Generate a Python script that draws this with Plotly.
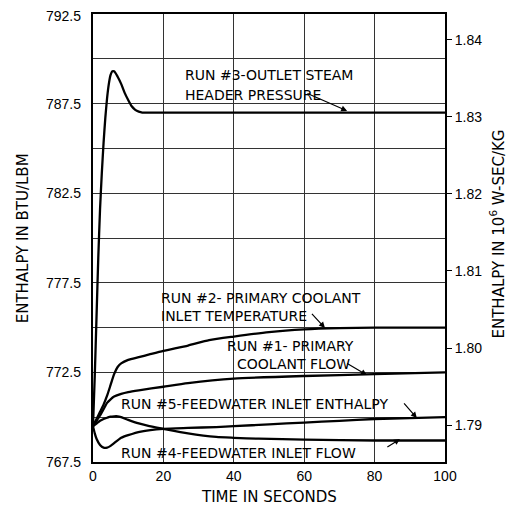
import plotly.graph_objects as go

# ---- data (time in s, enthalpy in BTU/LBM) ----
t_run3 = [0, 0.5, 1.0, 1.5, 2.0, 2.5, 3.0, 3.5, 4.0, 4.5, 5.0, 5.5, 6.0, 7.0, 8.0, 9.0, 10.0, 11.0, 12.0, 13.0, 14, 20, 40, 60, 80, 100]
h_run3 = [769.5, 772.3, 775.6, 778.9, 781.6, 783.6, 785.3, 786.7, 787.8, 788.6, 789.1, 789.3, 789.3, 789.0, 788.6, 788.1, 787.7, 787.35, 787.15, 787.05, 787.0, 787.0, 787.0, 787.0, 787.0, 787.0]

t_run2 = [0, 1, 2, 3, 4, 5, 6, 7, 8, 10, 13, 16, 20, 27, 33, 40, 50, 60, 70, 80, 90, 100]
h_run2 = [769.5, 769.9, 770.3, 770.7, 771.2, 771.8, 772.4, 772.8, 773.0, 773.2, 773.35, 773.5, 773.7, 774.0, 774.3, 774.5, 774.75, 774.9, 774.97, 775.0, 775.0, 775.0]

t_run1 = [0, 1, 2, 3, 4, 5, 6, 8, 10, 13, 20, 27, 40, 60, 80, 100]
h_run1 = [769.5, 769.8, 770.1, 770.45, 770.8, 771.0, 771.15, 771.3, 771.4, 771.5, 771.7, 771.9, 772.15, 772.3, 772.4, 772.5]

t_run4 = [0, 1, 2, 3, 4, 5, 6, 7, 8, 10, 13, 16, 20, 27, 35, 40, 47, 60, 80, 100]
h_run4 = [769.5, 769.65, 769.8, 769.9, 769.97, 770.03, 770.05, 770.05, 770.0, 769.85, 769.65, 769.5, 769.35, 769.1, 768.9, 768.85, 768.8, 768.75, 768.7, 768.7]

t_run5 = [0, 0.5, 1, 2, 3, 4, 5, 6, 8, 10, 13.6, 20, 27, 35, 40, 50, 60, 70, 80, 90, 100]
h_run5 = [769.5, 769.1, 768.8, 768.45, 768.3, 768.3, 768.4, 768.55, 768.85, 769.0, 769.2, 769.35, 769.4, 769.45, 769.5, 769.6, 769.7, 769.8, 769.9, 769.95, 770.0]

left_ticks = [767.5, 772.5, 777.5, 782.5, 787.5, 792.5]
left_labels = ["767.5", "772.5", "777.5", "782.5", "787.5", "792.5"]
right_ticks = [1.79, 1.80, 1.81, 1.82, 1.83, 1.84]
right_labels = ["1.79", "1.80", "1.81", "1.82", "1.83", "1.84"]
x_ticks = [0, 20, 40, 60, 80, 100]
BTU_TO_SI = 0.002326  # 1 BTU/LBM = 0.002326 x10^6 W-sec/KG

Y0, Y1 = 767.5, 792.5

fig = go.Figure()
line = dict(color="black", width=2.3, shape="spline", smoothing=0.6)
for t, h, nm in [(t_run3, h_run3, "Run 3"), (t_run2, h_run2, "Run 2"), (t_run1, h_run1, "Run 1"),
                 (t_run4, h_run4, "Run 4"), (t_run5, h_run5, "Run 5")]:
    fig.add_trace(go.Scatter(x=t, y=h, mode="lines", line=line, name=nm, showlegend=False))

# invisible trace for the right axis
fig.add_trace(go.Scatter(x=[0, 100], y=[Y0 * BTU_TO_SI, Y1 * BTU_TO_SI], yaxis="y2", mode="lines",
                         line=dict(width=0, color="rgba(0,0,0,0)"), showlegend=False, hoverinfo="skip"))

tickfont = dict(family="Liberation Sans, Arial", size=14, color="black")
titlefont = dict(family="DejaVu Sans", size=15, color="black")
# page body has an 8px margin, so the figure is offset by 8px
fig.update_layout(
    width=507, height=498,
    margin=dict(l=85, r=70, t=6, b=44),
    paper_bgcolor="white", plot_bgcolor="white",
    xaxis=dict(range=[0, 100], tickvals=x_ticks, showgrid=True, gridcolor="#333", gridwidth=1,
               zeroline=False, showline=True, linecolor="black", linewidth=1.5, mirror=True,
               ticks="", tickfont=tickfont, automargin=False),
    yaxis=dict(range=[Y0, Y1], dtick=2.5, tick0=767.5, showgrid=True, gridcolor="#333", gridwidth=1,
               zeroline=False, showline=True, linecolor="black", linewidth=1.5, mirror=True,
               ticks="", showticklabels=False, automargin=False),
    yaxis2=dict(range=[Y0 * BTU_TO_SI, Y1 * BTU_TO_SI], overlaying="y", side="right",
                tickvals=right_ticks, ticktext=right_labels, showgrid=False, zeroline=False,
                ticks="outside", ticklen=6, tickcolor="black", tickfont=tickfont, showline=False,
                automargin=False),
    showlegend=False,
)

# axis titles
fig.add_annotation(x=-0.198, y=0.50, xref="paper", yref="paper", text="ENTHALPY IN BTU/LBM",
                   textangle=-90, showarrow=False, xanchor="center", yanchor="middle", font=titlefont)
fig.add_annotation(x=1.1477, y=0.51, xref="paper", yref="paper", text="ENTHALPY IN 10<sup>6</sup> W-SEC/KG",
                   textangle=-90, showarrow=False, xanchor="center", yanchor="middle", font=titlefont)
fig.add_annotation(x=0.5, y=-0.078, xref="paper", yref="paper", text="TIME IN SECONDS",
                   showarrow=False, xanchor="center", yanchor="middle", font=titlefont)

# left tick labels placed left of the axis
for v, lab in zip(left_ticks, left_labels):
    fig.add_annotation(x=0, y=v, xref="paper", yref="y", text=lab, showarrow=False,
                       xanchor="right", xshift=-10, yshift=(-2 if v == Y1 else 0), font=tickfont)

afont = dict(family="DejaVu Sans", size=14, color="black")
labels = [
    (26.4, 789.1, "RUN #3-OUTLET STEAM"),
    (26.4, 788.0, "HEADER PRESSURE"),
    (19.6, 776.65, "RUN #2- PRIMARY COOLANT"),
    (19.6, 775.65, "INLET TEMPERATURE"),
    (38.4, 773.97, "RUN #1- PRIMARY"),
    (41.2, 772.97, "COOLANT FLOW"),
    (8.2, 770.74, "RUN #5-FEEDWATER INLET ENTHALPY"),
    (8.2, 768.0, "RUN #4-FEEDWATER INLET FLOW"),
]
for x, y, txt in labels:
    fig.add_annotation(x=x, y=y, text=txt, showarrow=False, xanchor="left", yanchor="middle",
                       xshift=-3, font=afont)

arrows = [
    (60.5, 788.1, 72.2, 787.09),
    (61.8, 775.85, 65.9, 774.98),
    (71.8, 773.05, 77.8, 772.35),
    (88.0, 770.85, 92.0, 769.95),
    (83.2, 768.28, 87.2, 768.78),
]
for ax, ay, x, y in arrows:
    fig.add_annotation(x=x, y=y, ax=ax, ay=ay, xref="x", yref="y", axref="x", ayref="y",
                       text="", showarrow=True, arrowhead=2, arrowsize=1, arrowwidth=1.2, arrowcolor="black")

fig.write_html("out.html")
